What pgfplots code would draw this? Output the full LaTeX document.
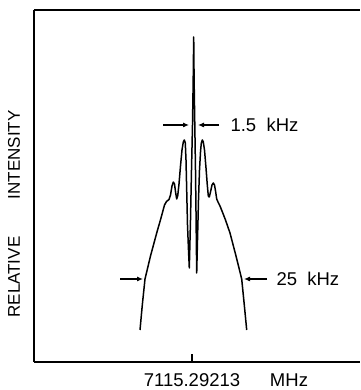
\documentclass[border=0pt]{standalone}
\usepackage{pgfplots}
\pgfplotsset{compat=1.18}
\usepackage{fontspec}
\setmainfont{Liberation Sans}
\usetikzlibrary{arrows.meta}

\begin{document}
\begin{tikzpicture}
\begin{axis}[
 x=1pt, y=1pt,
 xmin=34, xmax=360, ymin=28, ymax=380,
 axis x line*=bottom, axis y line*=left,
 axis line style={line width=1.4pt},
 xtick={192}, xticklabels={7115.29213},
 ytick=\empty,
 tick align=inside, major tick length=8pt,
 tick style={line width=1.3pt, black},
 xticklabel style={font=\fontsize{18.5}{21}\selectfont, yshift=-8pt},
 /pgf/number format/assume math mode=true,
 clip=false,
]
\addplot[black, line width=1.5pt, line join=round] coordinates {
(140,60)(142.3,85)(145,111)(150.5,134)(156.7,157)(161,172)(164.5,185)(166.5,188.5)(169,190.5)(170.5,195)(172,204)(173.3,208)(174.5,206)(175.7,197)(176.7,191)(177.7,194)(179,206)(180.5,224)(182,240)(183.3,248)(184.3,250)(185.3,247)(186,230)(186.7,200)(187.5,165)(188.5,140)(189.3,122)(190.5,170)(191.5,220)(192.5,265)(193.2,310)(193.7,353)(194.1,310)(194.8,265)(195.5,220)(196.1,170)(196.7,117)(197.5,150)(198.5,190)(199.5,220)(200.5,238)(201.3,247)(202.3,250)(203.3,248)(204.5,240)(206,222)(207.3,205)(208.3,194)(209.3,193)(210.5,198)(212,205)(213.3,207)(214.5,205)(215.7,198)(216.7,191)(218,188)(220,184)(222,179)(225.5,170)(230,157)(236,134)(241.7,111)(244.3,85)(246.7,60)
};
\draw[line width=1.3pt] (axis cs:34,380) -- (axis cs:360,380);
\draw[line width=1.1pt,-{Latex[length=6pt,width=5pt]}] (axis cs:163,265) -- (axis cs:189,265);
\draw[line width=1.1pt,-{Latex[length=6pt,width=5pt]}] (axis cs:219,265) -- (axis cs:198,265);
\node[anchor=west, font=\fontsize{18.5}{21}\selectfont] at (axis cs:227,265) {1.5\ \ kHz};
\draw[line width=1.1pt,-{Latex[length=6pt,width=5pt]}] (axis cs:120,111) -- (axis cs:143,111);
\draw[line width=1.1pt,-{Latex[length=6pt,width=5pt]}] (axis cs:267,111) -- (axis cs:244,111);
\node[anchor=west, font=\fontsize{18.5}{21}\selectfont] at (axis cs:273,111) {25\ \ kHz};
\node[font=\fontsize{18.5}{21}\selectfont] at (axis cs:289,10) {MHz};
\node[rotate=90, font=\fontsize{17}{20}\selectfont] at (axis cs:14,176) {RELATIVE\hspace{2.2em}INTENSITY};
\coordinate (bl) at (axis cs:0,0);
\coordinate (tr) at (axis cs:360,390);
\end{axis}
\pgfresetboundingbox
\path (bl) rectangle (tr);
\end{tikzpicture}
\end{document}
